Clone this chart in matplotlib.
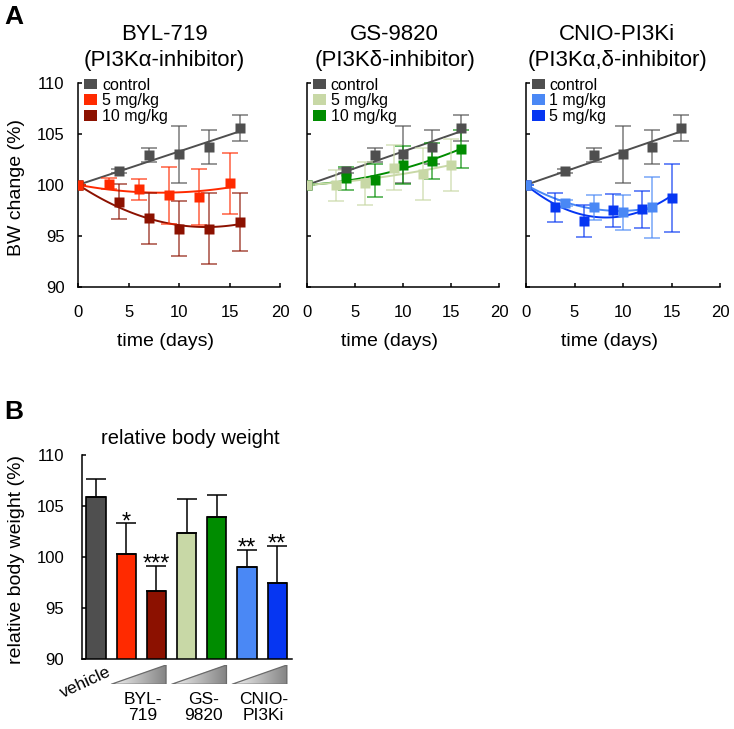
import numpy as np
import matplotlib

matplotlib.use("Agg")
import matplotlib.pyplot as plt
from matplotlib.patches import Patch, Polygon

plt.rcParams["font.family"] = ["Liberation Sans", "DejaVu Sans"]

# ---- panel A: body weight over time (% of day 0), mean +- sd ----
ctrl_days = [0, 4, 7, 10, 13, 16]
ctrl_bw = [100.0, 101.4, 102.9, 103.0, 103.7, 105.6]
ctrl_err = [0, 0.2, 0.7, 2.8, 1.65, 1.3]

byl_lo_days = [0, 3, 6, 9, 12, 15]
byl_lo_bw = [100.0, 100.1, 99.55, 99.0, 98.8, 100.15]
byl_lo_err = [0, 0.55, 1.05, 2.8, 2.75, 3.0]

byl_hi_days = [0, 4, 7, 10, 13, 16]
byl_hi_bw = [100.0, 98.35, 96.7, 95.7, 95.7, 96.35]
byl_hi_err = [0, 1.75, 2.5, 2.7, 3.5, 2.85]

gs_lo_days = [0, 3, 6, 9, 12, 15]
gs_lo_bw = [100.0, 99.95, 100.15, 101.7, 101.1, 101.95]
gs_lo_err = [0, 1.55, 2.1, 2.25, 2.55, 2.6]

gs_hi_days = [0, 4, 7, 10, 13, 16]
gs_hi_bw = [100.0, 100.65, 100.45, 101.95, 102.35, 103.55]
gs_hi_err = [0, 1.15, 1.6, 1.85, 1.8, 1.85]

cnio_lo_days = [0, 4, 7, 10, 13]
cnio_lo_bw = [100.0, 98.25, 97.8, 97.3, 97.8]
cnio_lo_err = [0, 0.3, 1.25, 1.7, 3.0]

cnio_hi_days = [0, 3, 6, 9, 12, 15]
cnio_hi_bw = [100.0, 97.8, 96.45, 97.5, 97.6, 98.7]
cnio_hi_err = [0, 1.4, 1.55, 1.65, 1.8, 3.35]

panel_titles = [
    ("BYL-719", "(PI3Kα-inhibitor)"),
    ("GS-9820", "(PI3Kδ-inhibitor)"),
    ("CNIO-PI3Ki", "(PI3Kα,δ-inhibitor)"),
]
dose_labels = [("5 mg/kg", "10 mg/kg"), ("5 mg/kg", "10 mg/kg"), ("1 mg/kg", "5 mg/kg")]
time_ticks = [0, 5, 10, 15, 20]
bw_ticks = [90, 95, 100, 105, 110]

# ---- panel B: relative body weight at end of treatment ----
bar_names = ["vehicle", "BYL 5", "BYL 10", "GS 5", "GS 10", "CNIO 1", "CNIO 5"]
bar_means = [105.9, 100.3, 96.7, 102.4, 103.9, 99.0, 97.45]
bar_err = [1.7, 3.0, 2.45, 3.3, 2.2, 1.7, 3.65]
bar_stars = ["", "*", "***", "", "", "**", "**"]
drug_groups = ["BYL-\n719", "GS-\n9820", "CNIO-\nPI3Ki"]

C_CTRL = "#4f4f4f"
colors = {
    "byl_lo": "#ff2a00", "byl_hi": "#8c1100",
    "gs_lo": "#c8d8a6", "gs_hi": "#008c00",
    "cnio_lo": "#4a88f5", "cnio_hi": "#0636f2",
}
bar_colors = [C_CTRL, colors["byl_lo"], colors["byl_hi"], colors["gs_lo"],
              colors["gs_hi"], colors["cnio_lo"], colors["cnio_hi"]]

W, H = 734, 729
fig = plt.figure(figsize=(W / 100, H / 100), dpi=100)


def px_axes(left, top, right, bottom):
    return fig.add_axes([left / W, 1 - bottom / H, (right - left) / W, (bottom - top) / H])


def style(ax, xpad, ypad):
    for s in ("top", "right"):
        ax.spines[s].set_visible(False)
    for s in ("left", "bottom"):
        ax.spines[s].set_linewidth(1.1)
    ax.tick_params(direction="in", length=2.6, width=1.1, labelsize=12)
    ax.tick_params(axis="x", pad=xpad)
    ax.tick_params(axis="y", pad=ypad)


def series(ax, days, bw, err, color, deg):
    days = np.asarray(days, float)
    bw = np.asarray(bw, float)
    w = np.ones_like(days)
    w[0] = 10.0
    coef = np.polyfit(days, bw, deg, w=w)
    xs = np.linspace(0, days.max(), 120)
    ax.plot(xs, np.polyval(coef, xs), color=color, lw=1.4, zorder=2)
    ax.errorbar(days, bw, yerr=err, fmt="none", ecolor=color, elinewidth=1.1,
                capsize=6, capthick=1.1, alpha=0.75, zorder=3)
    ax.plot(days, bw, "s", color=color, ms=7, mec="none", zorder=4)


panel_series = [
    [(byl_hi_days, byl_hi_bw, byl_hi_err, colors["byl_hi"]),
     (byl_lo_days, byl_lo_bw, byl_lo_err, colors["byl_lo"])],
    [(gs_hi_days, gs_hi_bw, gs_hi_err, colors["gs_hi"]),
     (gs_lo_days, gs_lo_bw, gs_lo_err, colors["gs_lo"])],
    [(cnio_hi_days, cnio_hi_bw, cnio_hi_err, colors["cnio_hi"]),
     (cnio_lo_days, cnio_lo_bw, cnio_lo_err, colors["cnio_lo"])],
]
boxes = [(78.3, 83, 280, 286.7), (307.3, 83, 499.3, 286.7), (526, 83, 720, 286.7)]
title_x = [0.425, 0.455, 0.47]

for i, box in enumerate(boxes):
    ax = px_axes(*box)
    style(ax, 13, 10)
    series(ax, ctrl_days, ctrl_bw, ctrl_err, C_CTRL, 1)
    for days, bw, err, col in panel_series[i]:
        series(ax, days, bw, err, col, 2)
    ax.set_xlim(0, 20)
    ax.set_ylim(90, 110)
    ax.set_xticks(time_ticks)
    ax.set_yticks(bw_ticks)
    if i == 0:
        ax.set_ylabel("BW change (%)", fontsize=14)
        ax.yaxis.set_label_coords(-0.265, 0.485)
    else:
        ax.set_yticklabels([])
    ax.set_xlabel("time (days)", fontsize=14)
    ax.xaxis.set_label_coords(0.43, -0.225)
    ax.text(title_x[i], 1.24, panel_titles[i][0], transform=ax.transAxes,
            ha="center", va="center", fontsize=16)
    ax.text(title_x[i], 1.11, panel_titles[i][1], transform=ax.transAxes,
            ha="center", va="center", fontsize=16)
    handles = [Patch(facecolor=C_CTRL, edgecolor="none"),
               Patch(facecolor=panel_series[i][1][3], edgecolor="none"),
               Patch(facecolor=panel_series[i][0][3], edgecolor="none")]
    ax.legend(handles, ["control", dose_labels[i][0], dose_labels[i][1]],
              loc="upper left", bbox_to_anchor=(0.03, 1.027), frameon=False,
              fontsize=11.5, borderpad=0, borderaxespad=0, labelspacing=0.05,
              handlelength=0.8, handleheight=0.65, handletextpad=0.3)

# ---- panel B ----
axb = px_axes(81.5, 455, 292, 659)
style(axb, 13, 12.5)
xb = np.arange(len(bar_means))
axb.bar(xb, bar_means, width=0.64, color=bar_colors, edgecolor="black",
        linewidth=1.2, zorder=2)
axb.errorbar(xb, bar_means, yerr=[np.zeros(len(bar_err)), bar_err], fmt="none",
             ecolor="black", elinewidth=1.1, capsize=7, capthick=1.1, zorder=3)
for x, m, e, s in zip(xb, bar_means, bar_err, bar_stars):
    if s:
        axb.text(x, m + e - 0.5, s, ha="center", va="baseline", fontsize=17)
axb.set_xlim(-0.48, 6.49)
axb.set_ylim(90, 110)
axb.set_yticks(bw_ticks)
axb.set_xticks([])
axb.set_ylabel("relative body weight (%)", fontsize=14)
axb.yaxis.set_label_coords(-0.27, 0.49)
axb.text(0.516, 1.083, "relative body weight", transform=axb.transAxes,
         ha="center", va="center", fontsize=14.5)
axb.text(-0.36, -0.115, bar_names[0], transform=axb.get_xaxis_transform(),
         ha="center", va="center", rotation=25, rotation_mode="anchor", fontsize=12.5)
for k, lab in enumerate(drug_groups):
    axb.text(1.5 + 2 * k + 0.05, -0.16, lab, transform=axb.get_xaxis_transform(),
             ha="center", va="top", fontsize=12.5, linespacing=1.12)

# dose triangles with grey gradient
axt = px_axes(81.5, 665, 292, 684.3)
axt.set_xlim(axb.get_xlim())
axt.set_ylim(0, 1)
axt.axis("off")
grad = np.linspace(0.95, 0.52, 256).reshape(1, -1)
for k in range(3):
    left = xb[1 + 2 * k] - 0.5
    right = xb[2 + 2 * k] + 0.32
    tri = Polygon([(left, 0), (right, 0), (right, 1)], closed=True,
                  facecolor="none", edgecolor="#6a6a6a", lw=0.9, zorder=3)
    axt.add_patch(tri)
    im = axt.imshow(grad, cmap="gray", vmin=0, vmax=1, aspect="auto",
                    extent=[left, right, 0, 1], zorder=2)
    im.set_clip_path(tri)

fig.text(14 / W, 1 - 17 / H, "A", fontsize=19, fontweight="bold", ha="center", va="center")
fig.text(14 / W, 1 - 412 / H, "B", fontsize=19, fontweight="bold", ha="center", va="center")

fig.savefig("out.png", dpi=100)
